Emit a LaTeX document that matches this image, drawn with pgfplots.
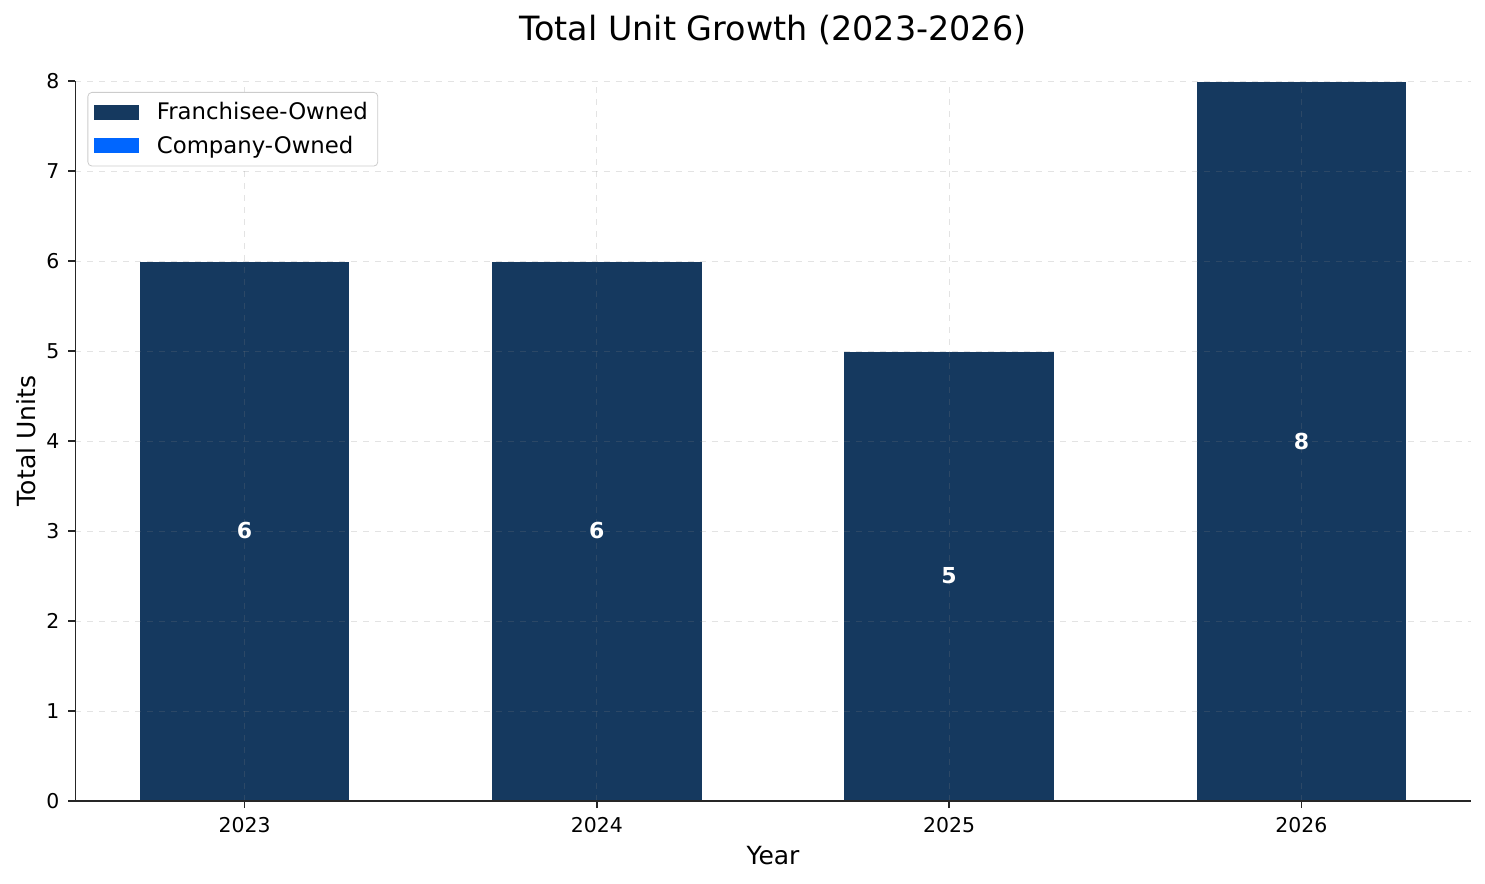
\documentclass[border=0pt]{standalone}
\usepackage{fontspec}
\setmainfont{DejaVu Sans}
\usepackage{pgfplots}
\pgfplotsset{compat=1.18}
\definecolor{franch}{HTML}{15395F}
\definecolor{comp}{HTML}{0066FF}
\definecolor{spine}{HTML}{262626}
\begin{document}
\begin{tikzpicture}
\begin{axis}[
  at={(0,0)}, anchor=south west,
  scale only axis, width=697.5pt, height=360pt,
  ybar stacked, bar width=0.6,
  xmin=-0.48, xmax=3.48, ymin=0, ymax=8,
  xtick={0,1,2,3}, xticklabels={2023,2024,2025,2026},
  ytick={0,1,...,8},
  axis lines=left,
  axis line style={-, line width=0.8pt, color=spine},
  tick align=outside, major tick length=3.5pt,
  tick style={line width=0.8pt, color=spine},
  tick label style={font=\fontsize{10.2}{12}\selectfont},
  /pgf/number format/assume math mode=true,
  xticklabel style={yshift=-1pt},
  yticklabel style={xshift=-1pt},
  grid=major,
  major grid style={dashed, line width=0.4pt, color=gray, opacity=0.22},
  axis on top,
  title={Total Unit Growth (2023-2026)},
  title style={font=\fontsize{16.7}{20}\selectfont, at={(0.5,1)}, anchor=base, yshift=14pt},
  xlabel={Year}, ylabel={Total Units},
  label style={font=\fontsize{12.5}{15}\selectfont},
  xlabel style={at={(0.5,0)}, anchor=base, yshift=-31.5pt},
  ylabel style={at={(0,0.5)}, anchor=base, yshift=20pt},
  legend cell align=left,
  legend style={at={(0,1)}, anchor=north west, xshift=6pt, yshift=-5.5pt,
    draw=black!20, rounded corners=2pt, fill=white,
    font=\fontsize{11.4}{14}\selectfont, inner xsep=3pt, inner ysep=3pt,
    row sep=2.5pt, /tikz/every odd column/.append style={column sep=7pt}},
]
\addplot[fill=franch, draw=white, line width=1pt,
  legend image code/.code={\fill[franch, sharp corners] (0pt,-3.25pt) rectangle (21.5pt,3.25pt);},
  nodes near coords,
  every node near coord/.append style={anchor=center, text=white,
     font=\fontsize{11}{13}\selectfont\bfseries},
] table[x=x, y=v] {
x v
0 6
1 6
2 5
3 8
};
\addlegendentry{Franchisee-Owned}
\addplot[fill=comp, draw=white, line width=1pt,
  legend image code/.code={\fill[comp, sharp corners] (0pt,-3.25pt) rectangle (21.5pt,3.25pt);},
] table[x=x, y=v] {
x v
0 0
1 0
2 0
3 0
};
\addlegendentry{Company-Owned}
\end{axis}
\path[use as bounding box] (-37.75pt,-41.5pt) rectangle (704.75pt,400.5pt);
\end{tikzpicture}
\end{document}
